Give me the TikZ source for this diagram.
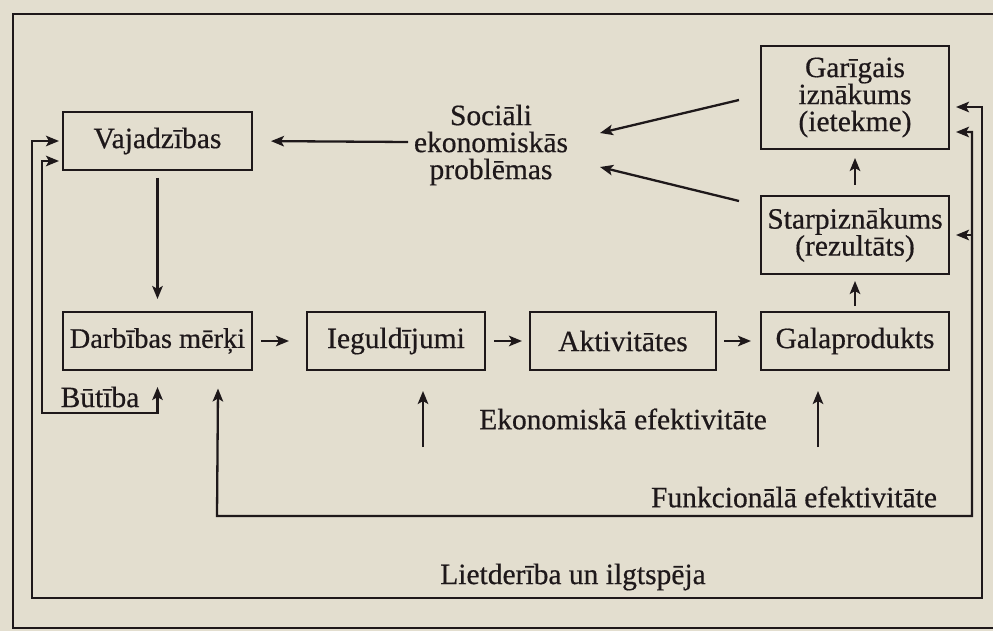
\documentclass[tikz,border=0pt]{standalone}
\usepackage{fontspec}
\setmainfont[FakeBold=0.5,AutoFakeBold=0.5]{Liberation Serif}
\usetikzlibrary{arrows.meta}
\definecolor{paper}{RGB}{227,222,207}
\definecolor{ink}{RGB}{30,24,26}
\begin{document}
\begin{tikzpicture}[x=1pt,y=-1pt,
  every node/.style={font=\fontsize{29.5}{27}\selectfont\bfseries, text=ink},
  box/.style={draw=ink, line width=2pt, rectangle, inner sep=0pt, align=center},
  tip/.tip={Stealth[length=13pt,width=10.5pt,inset=3pt]},
  arr/.style={draw=ink, line width=2.3pt, -tip},
  dbl/.style={draw=ink, line width=2.3pt, tip-tip},
  frameline/.style={draw=ink, line width=1.6pt}]
\fill[paper] (0,0) rectangle (993,631);
\useasboundingbox (0,0) rectangle (993,631);
% outer frame of the figure
\coordinate (oTR) at (993,14);
\coordinate (oTL) at (13,14);
\coordinate (oBL) at (13,628);
\coordinate (oBR) at (993,628);
\draw[frameline] (oTR) -- (oTL) -- (oBL) -- (oBR);
% boxes
\node[box, minimum width=189pt, minimum height=58pt] (vaj) at (157.5,141) {Vajadzības};
\node[box, minimum width=189pt, minimum height=58pt, font=\fontsize{28.3}{27}\selectfont\bfseries] (darb) at (157.5,341) {Darbības mērķi};
\node[box, minimum width=178pt, minimum height=58pt] (ieg) at (396,341) {Ieguldījumi};
\node[box, minimum width=186pt, minimum height=58pt] (akt) at (623,341) {Aktivitātes};
\node[box, minimum width=188pt, minimum height=58pt] (gala) at (855,341) {Galaprodukts};
\node[box, minimum width=188pt, minimum height=103pt] (gar) at (855,97.5) {Garīgais\\iznākums\\(ietekme)};
\node[box, minimum width=188pt, minimum height=78pt] (starp) at (855,235) {Starpiznākums\\(rezultāts)};
\node[align=center, inner sep=3pt] (soc) at (491,145) {Sociāli\\ekonomiskās\\problēmas};
% labels
\node (eko) at (623,419) {Ekonomiskā efektivitāte};
\node (funk) at (794,497) {Funkcionālā efektivitāte};
\node (liet) at (573,577) {Lietderība un ilgtspēja};
\node (but) at (100,397) {Būtība};
% main chain
\draw[arr, shorten <=7pt, shorten >=12pt] (vaj) -- (darb);
\draw[arr, shorten <=8pt, shorten >=17pt] (darb.east) -- (ieg.west);
\draw[arr, shorten <=8pt, shorten >=7pt] (ieg.east) -- (akt.west);
\draw[arr, shorten <=7pt, shorten >=9pt] (akt.east) -- (gala.west);
\draw[arr, shorten <=5pt, shorten >=6pt] (gala.north) -- (starp.south);
\draw[arr, shorten <=10pt, shorten >=8pt] (starp.north) -- (gar.south);
\coordinate (socL) at (408,142);
\draw[arr, shorten >=18pt] (socL) -- (vaj.east);
% to social problems
\coordinate (sa) at (600,133);
\coordinate (sb) at (600,167);
\draw[arr] ([xshift=-21pt,yshift=-2.5pt]gar.west) -- (sa);
\draw[arr] ([xshift=-21pt,yshift=-6pt]starp.north west) -- (sb);
% economic efficiency arrows
\coordinate (ekoA) at (423,447);
\coordinate (ekoB) at (818,447);
\draw[arr] (ekoA) -- ([xshift=27pt,yshift=-20pt]ieg.south);
\draw[arr] (ekoB) -- ([xshift=-37pt,yshift=-20pt]gala.south);
% functional efficiency frame
\coordinate (funkL) at (217,516);
\coordinate (funkR) at (972,516);
\coordinate (funkS) at (972,235);
\draw[dbl] ([xshift=-35pt,yshift=-17.5pt]darb.south east) -- (funkL) -- (funkR) |- ([xshift=6pt,yshift=-34.5pt]gar.east);
\draw[arr] (funkS) -- ([xshift=6pt]starp.east);
% usefulness and sustainability frame
\coordinate (lietL) at (32,598);
\coordinate (lietR) at (982,598);
\draw[dbl] ([xshift=-3pt]vaj.west) -| (lietL) -- (lietR) |- ([xshift=6pt,yshift=-9.5pt]gar.east);
% essence loop
\coordinate (butL) at (42,413);
\draw[dbl] ([xshift=-3pt,yshift=-20pt]vaj.west) -| (butL) -| ([yshift=-16pt]darb.south);
\end{tikzpicture}
\end{document}
